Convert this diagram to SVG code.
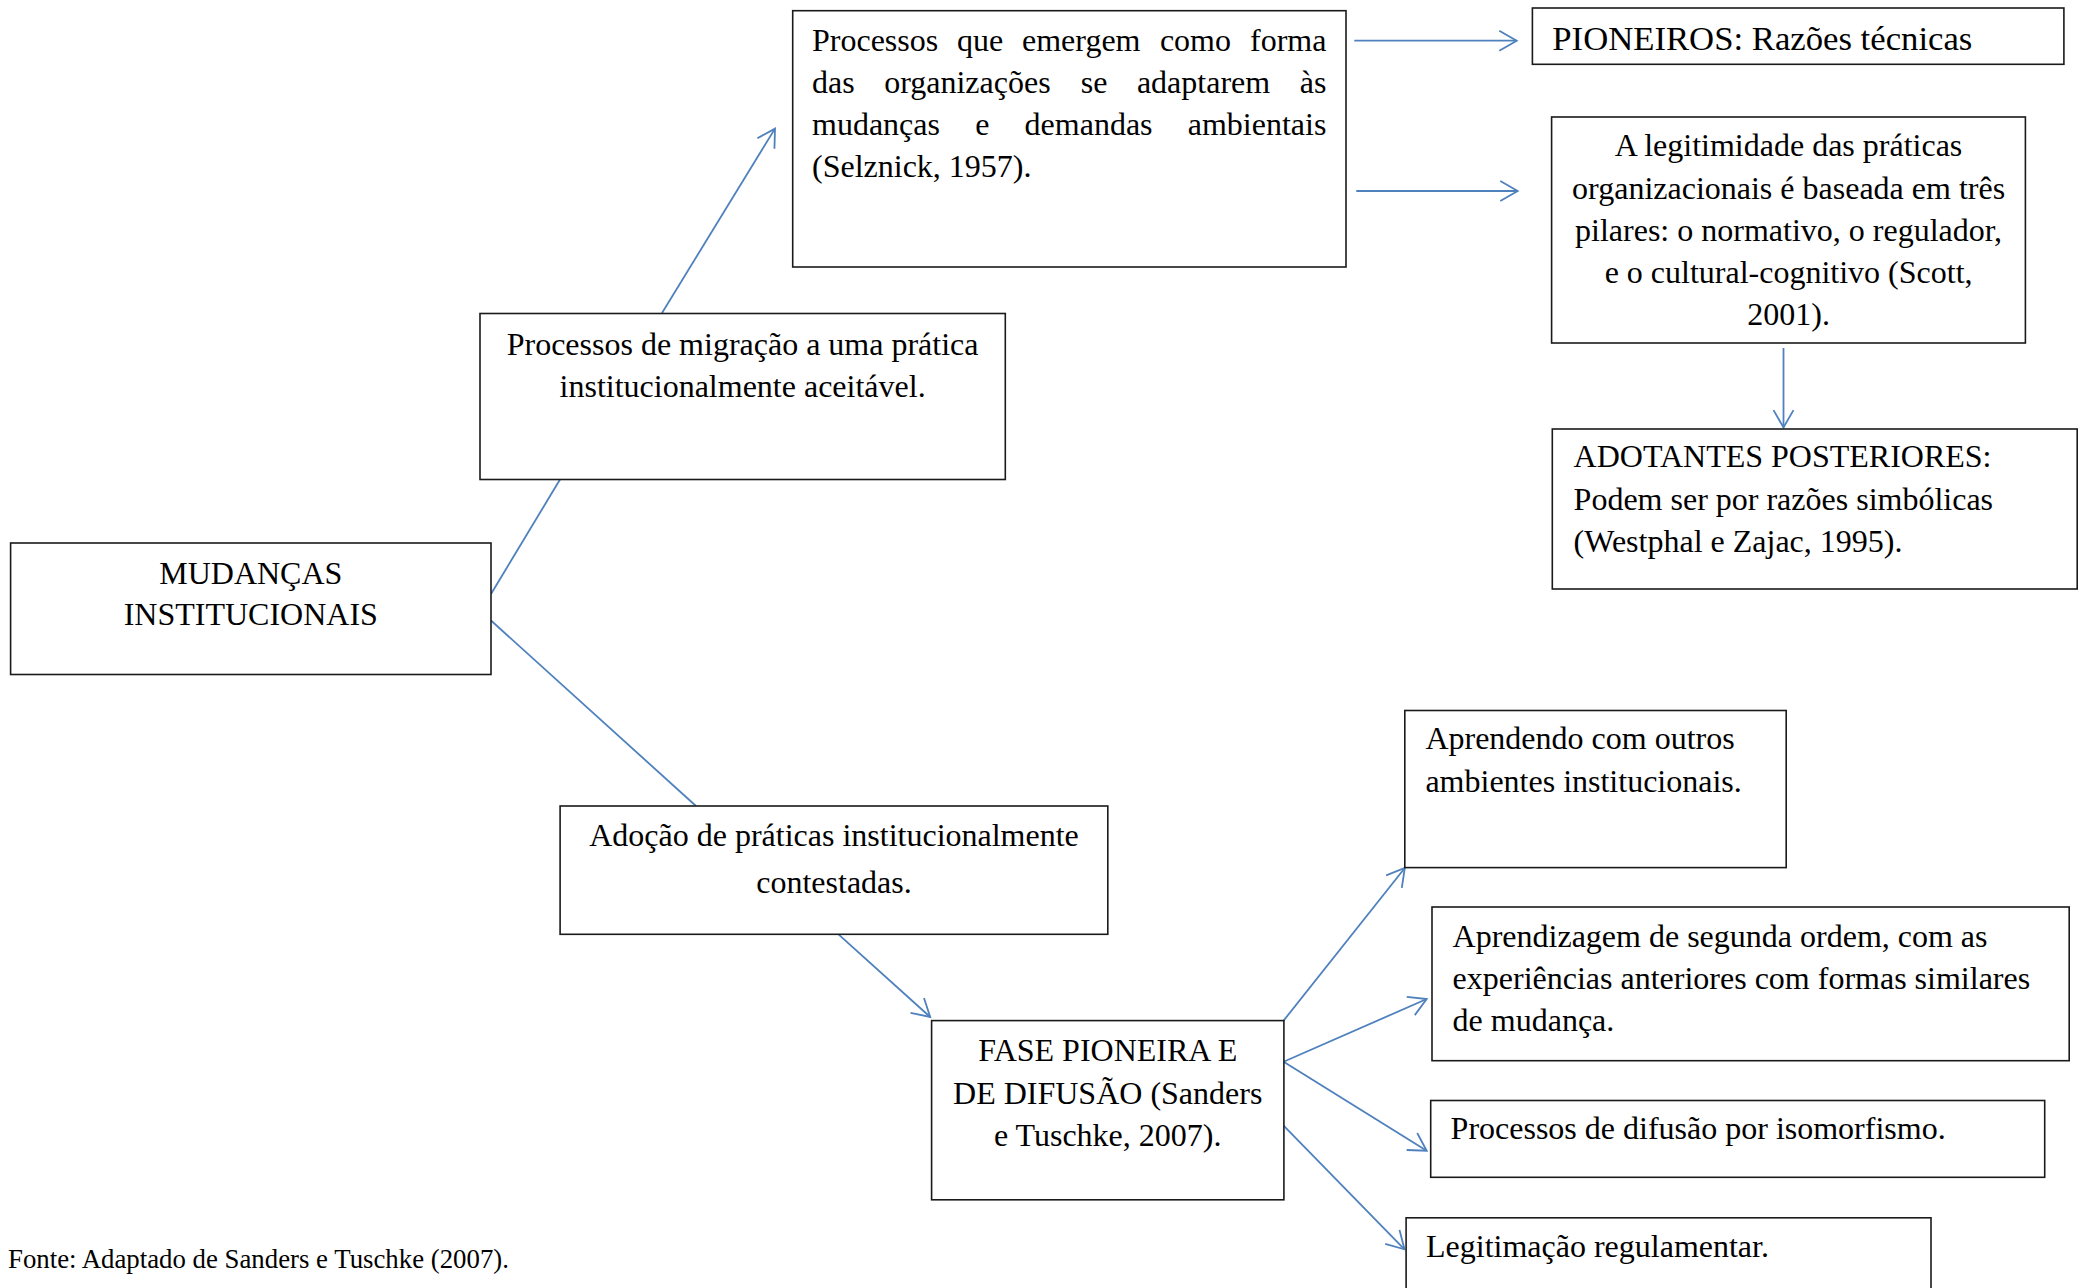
<svg xmlns="http://www.w3.org/2000/svg" width="2084" height="1288" viewBox="0 0 2084 1288">
<style>
.box{fill:#fff;stroke:#1a1a1a;stroke-width:1.6}
.t{font-family:"Liberation Serif","Times New Roman",serif;font-size:32px;fill:#000}
.c{text-anchor:middle}
.e{text-anchor:end}
.ln{stroke:#4F81BD;stroke-width:1.8;fill:none}
.ar{marker-end:url(#ah)}
</style>
<defs>
<marker id="ah" markerUnits="userSpaceOnUse" markerWidth="40" markerHeight="40" viewBox="-20 -20 40 40" refX="0" refY="0" orient="auto">
<path d="M-17.4,-10 L0,0 L-17.4,10" fill="none" stroke="#4F81BD" stroke-width="1.8"/>
</marker>
</defs>
<rect width="2084" height="1288" fill="#fff"/>

<g id="connectors">
<line class="ln" x1="491" y1="594" x2="560" y2="479.5"/>
<line class="ln ar" x1="662" y1="313" x2="775" y2="128.6"/>
<line class="ln" x1="491" y1="620.5" x2="696" y2="806"/>
<line class="ln ar" x1="1354.3" y1="40.7" x2="1516.7" y2="40.7"/>
<line class="ln ar" x1="1356.3" y1="191" x2="1517.7" y2="191"/>
<line class="ln ar" x1="1783.5" y1="348" x2="1783.5" y2="427.5"/>
<line class="ln ar" x1="838.5" y1="934.3" x2="930.2" y2="1017"/>
<line class="ln ar" x1="1283.6" y1="1020.6" x2="1404.8" y2="868"/>
<line class="ln ar" x1="1283.6" y1="1061.8" x2="1426.7" y2="999"/>
<line class="ln ar" x1="1283.6" y1="1061.8" x2="1426.7" y2="1150.7"/>
<line class="ln ar" x1="1283.6" y1="1125.7" x2="1404.5" y2="1249.3"/>
</g>

<g id="n-mudancas">
<rect class="box" x="10.6" y="543" width="480.4" height="131.5"/>
<text class="t c" x="250.8" y="584">MUDANÇAS</text>
<text class="t c" x="250.8" y="625">INSTITUCIONAIS</text>
</g>

<g id="n-migracao">
<rect class="box" x="480" y="313.5" width="525.3" height="166"/>
<text class="t c" x="742.6" y="355">Processos de migração a uma prática</text>
<text class="t c" x="742.6" y="396.5">institucionalmente aceitável.</text>
</g>

<g id="n-processos">
<rect class="box" x="792.7" y="10.7" width="553.3" height="256.3"/>
<text class="t" y="51"><tspan x="812">Processos</tspan><tspan x="956.9">que</tspan><tspan x="1022">emergem</tspan><tspan x="1159.9">como</tspan><tspan x="1326.4" text-anchor="end">forma</tspan></text>
<text class="t" y="93"><tspan x="812">das</tspan><tspan x="884.2">organizações</tspan><tspan x="1080.7">se</tspan><tspan x="1136.9">adaptarem</tspan><tspan x="1326.4" text-anchor="end">às</tspan></text>
<text class="t" y="135"><tspan x="812">mudanças</tspan><tspan x="975.2">e</tspan><tspan x="1024.6">demandas</tspan><tspan x="1326.4" text-anchor="end">ambientais</tspan></text>
<text class="t" x="812" y="177">(Selznick, 1957).</text>
</g>

<g id="n-pioneiros">
<rect class="box" x="1532.4" y="8" width="531.5" height="56.3"/>
<text class="t" x="1552.3" y="50" style="font-size:34.7px">PIONEIROS: Razões técnicas</text>
</g>

<g id="n-legitimidade">
<rect class="box" x="1551.6" y="117" width="473.8" height="226"/>
<text class="t c" x="1788.6" y="156.3">A legitimidade das práticas</text>
<text class="t c" x="1788.6" y="198.5">organizacionais é baseada em três</text>
<text class="t c" x="1788.6" y="240.7">pilares: o normativo, o regulador,</text>
<text class="t c" x="1788.6" y="282.9">e o cultural-cognitivo (Scott,</text>
<text class="t c" x="1788.6" y="325">2001).</text>
</g>

<g id="n-adotantes">
<rect class="box" x="1552.3" y="429" width="524.9" height="160"/>
<text class="t" x="1573.6" y="467">ADOTANTES POSTERIORES:</text>
<text class="t" x="1573.6" y="510">Podem ser por razões simbólicas</text>
<text class="t" x="1573.6" y="552">(Westphal e Zajac, 1995).</text>
</g>

<g id="n-adocao">
<rect class="box" x="560.1" y="806" width="547.7" height="128.3"/>
<text class="t c" x="834" y="846">Adoção de práticas institucionalmente</text>
<text class="t c" x="834" y="893">contestadas.</text>
</g>

<g id="n-fase">
<rect class="box" x="931.6" y="1020.6" width="352.3" height="179.2"/>
<text class="t c" x="1107.7" y="1061">FASE PIONEIRA E</text>
<text class="t c" x="1107.7" y="1104">DE DIFUSÃO (Sanders</text>
<text class="t c" x="1107.7" y="1146">e Tuschke, 2007).</text>
</g>

<g id="n-aprendendo">
<rect class="box" x="1404.8" y="710.5" width="381.4" height="157.1"/>
<text class="t" x="1425.4" y="748.7">Aprendendo com outros</text>
<text class="t" x="1425.4" y="791.9">ambientes institucionais.</text>
</g>

<g id="n-aprendizagem">
<rect class="box" x="1432" y="907" width="637.2" height="153.7"/>
<text class="t" x="1452.6" y="946.7">Aprendizagem de segunda ordem, com as</text>
<text class="t" x="1452.6" y="988.7">experiências anteriores com formas similares</text>
<text class="t" x="1452.6" y="1030.5">de mudança.</text>
</g>

<g id="n-difusao">
<rect class="box" x="1430.7" y="1100.5" width="614" height="76.8"/>
<text class="t" x="1450.6" y="1138.7">Processos de difusão por isomorfismo.</text>
</g>

<g id="n-legitimacao">
<rect class="box" x="1406.1" y="1217.8" width="524.9" height="90"/>
<text class="t" x="1426" y="1256.8">Legitimação regulamentar.</text>
</g>

<text class="t" x="8" y="1268" style="font-size:26.8px">Fonte: Adaptado de Sanders e Tuschke (2007).</text>
</svg>
